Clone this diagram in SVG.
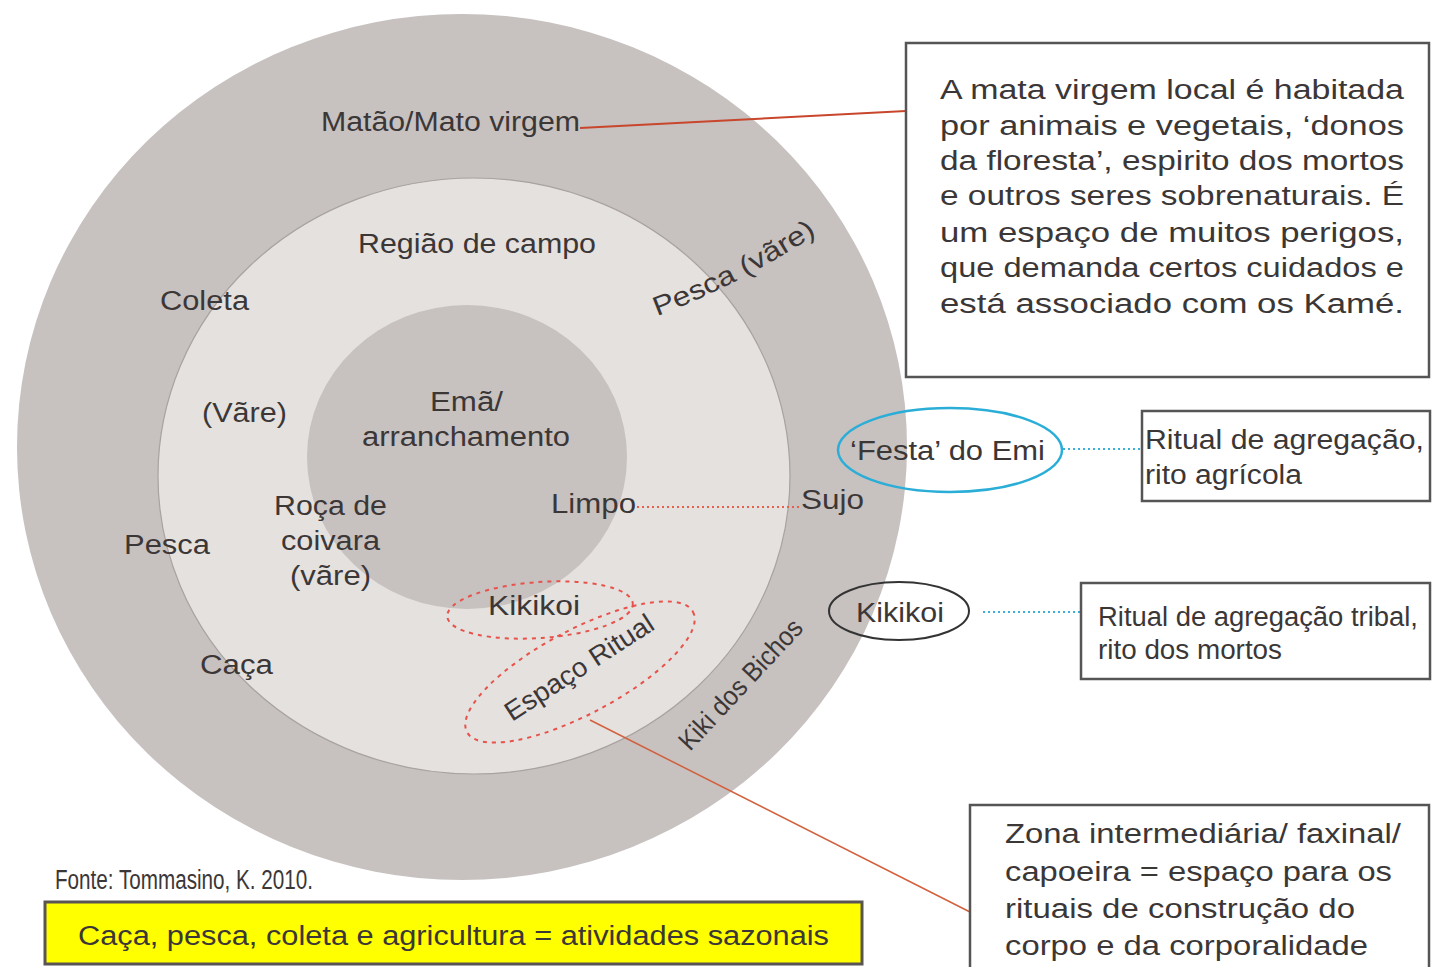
<svg xmlns="http://www.w3.org/2000/svg" width="1432" height="967" viewBox="0 0 1432 967">
<style>
.t{font-family:"Liberation Sans",Arial,sans-serif;font-size:27px;fill:#3c3737}
.box{fill:#fff;stroke:#555;stroke-width:2.5}
.red-dash{fill:none;stroke:#e8524a;stroke-width:2;stroke-dasharray:4 5}
</style>
<rect width="1432" height="967" fill="#fff"/>
<g id="zones">
<ellipse id="outer" cx="462" cy="447" rx="445" ry="433" fill="#c7c1c0"/>
<ellipse id="middle" cx="474" cy="476" rx="316" ry="298" fill="#e4e1df" stroke="#a8a2a1" stroke-width="1.2"/>
<ellipse id="inner" cx="467" cy="457" rx="160" ry="152" fill="#c7c1c0"/>
</g>
<g id="connectors">
<line x1="580" y1="128" x2="906" y2="111" stroke="#c8462c" stroke-width="2"/>
<line x1="637" y1="507" x2="800" y2="507" stroke="#e8604a" stroke-width="2" stroke-dasharray="2 3"/>
<line x1="1063" y1="449" x2="1143" y2="449" stroke="#3ab0d8" stroke-width="2" stroke-dasharray="2 3"/>
<line x1="983" y1="612" x2="1080" y2="612" stroke="#3ab0d8" stroke-width="2" stroke-dasharray="2 3"/>
<line x1="590" y1="720" x2="970" y2="912" stroke="#d2603c" stroke-width="1.5"/>
</g>
<g id="zone-labels">
<text class="t" x="321" y="131" textLength="259" lengthAdjust="spacingAndGlyphs">Matão/Mato virgem</text>
<text class="t" x="358" y="253" textLength="238" lengthAdjust="spacingAndGlyphs">Região de campo</text>
<text class="t" x="160" y="310" textLength="89" lengthAdjust="spacingAndGlyphs">Coleta</text>
<text class="t" x="202" y="422" textLength="85" lengthAdjust="spacingAndGlyphs">(Vãre)</text>
<text class="t" x="430" y="411" textLength="73" lengthAdjust="spacingAndGlyphs">Emã/</text>
<text class="t" x="362" y="446" textLength="208" lengthAdjust="spacingAndGlyphs">arranchamento</text>
<text class="t" x="274" y="515" textLength="113" lengthAdjust="spacingAndGlyphs">Roça de</text>
<text class="t" x="281" y="550" textLength="99" lengthAdjust="spacingAndGlyphs">coivara</text>
<text class="t" x="290" y="585" textLength="81" lengthAdjust="spacingAndGlyphs">(vãre)</text>
<text class="t" x="124" y="554" textLength="86" lengthAdjust="spacingAndGlyphs">Pesca</text>
<text class="t" x="551" y="513" textLength="85" lengthAdjust="spacingAndGlyphs">Limpo</text>
<text class="t" x="801" y="509" textLength="63" lengthAdjust="spacingAndGlyphs">Sujo</text>
<text class="t" x="200" y="674" textLength="73" lengthAdjust="spacingAndGlyphs">Caça</text>
<path id="arcPesca" d="M 657 316 Q 740 285 826 228" fill="none"/>
<text class="t" font-size="26"><textPath href="#arcPesca" textLength="180" lengthAdjust="spacingAndGlyphs">Pesca (vãre)</textPath></text>
<text class="t" font-size="21" transform="translate(690 752) rotate(-47)" textLength="168" lengthAdjust="spacingAndGlyphs">Kiki dos Bichos</text>
</g>
<g id="kikikoi-inner">
<ellipse class="red-dash" cx="540" cy="610" rx="93" ry="28" transform="rotate(-4 540 610)"/>
<text class="t" x="488" y="615" textLength="92" lengthAdjust="spacingAndGlyphs">Kikikoi</text>
</g>
<g id="espaco-ritual">
<ellipse class="red-dash" cx="580" cy="672" rx="128" ry="42" transform="rotate(-28 580 672)"/>
<text class="t" font-size="24" transform="translate(512 722) rotate(-33)" textLength="172" lengthAdjust="spacingAndGlyphs">Espaço Ritual</text>
</g>
<g id="festa-emi">
<ellipse cx="950" cy="450" rx="112" ry="42" fill="none" stroke="#2aaed8" stroke-width="2.5"/>
<text class="t" x="850" y="460" textLength="195" lengthAdjust="spacingAndGlyphs">‘Festa’ do Emi</text>
</g>
<g id="kikikoi-outer">
<ellipse cx="899" cy="611" rx="70" ry="29" fill="none" stroke="#333" stroke-width="2"/>
<text class="t" x="856" y="622" textLength="88" lengthAdjust="spacingAndGlyphs">Kikikoi</text>
</g>
<g id="box-mata">
<rect class="box" x="906" y="43" width="523" height="334"/>
<g font-size="28">
<text class="t" font-size="28" x="940" y="99" textLength="464" lengthAdjust="spacingAndGlyphs">A mata virgem local é habitada</text>
<text class="t" font-size="28" x="940" y="135" textLength="464" lengthAdjust="spacingAndGlyphs">por animais e vegetais, ‘donos</text>
<text class="t" font-size="28" x="940" y="170" textLength="464" lengthAdjust="spacingAndGlyphs">da floresta’, espirito dos mortos</text>
<text class="t" font-size="28" x="940" y="205" textLength="464" lengthAdjust="spacingAndGlyphs">e outros seres sobrenaturais. É</text>
<text class="t" font-size="28" x="940" y="242" textLength="464" lengthAdjust="spacingAndGlyphs">um espaço de muitos perigos,</text>
<text class="t" font-size="28" x="940" y="277" textLength="464" lengthAdjust="spacingAndGlyphs">que  demanda certos cuidados e</text>
<text class="t" font-size="28" x="940" y="313" textLength="464" lengthAdjust="spacingAndGlyphs">está associado com os Kamé.</text>
</g>
</g>
<g id="box-festa">
<rect class="box" x="1142" y="411" width="288" height="90"/>
<text class="t" x="1145" y="449" textLength="279" lengthAdjust="spacingAndGlyphs">Ritual de agregação,</text>
<text class="t" x="1145" y="484" textLength="157" lengthAdjust="spacingAndGlyphs">rito agrícola</text>
</g>
<g id="box-kikikoi">
<rect class="box" x="1081" y="583" width="349" height="96"/>
<text class="t" font-size="24" x="1098" y="626" textLength="320" lengthAdjust="spacingAndGlyphs">Ritual de agregação  tribal,</text>
<text class="t" font-size="24" x="1098" y="659" textLength="184" lengthAdjust="spacingAndGlyphs">rito  dos mortos</text>
</g>
<g id="box-zona">
<rect class="box" x="970" y="805" width="459" height="175"/>
<text class="t" x="1005" y="843" textLength="396" lengthAdjust="spacingAndGlyphs">Zona intermediária/ faxinal/</text>
<text class="t" x="1005" y="881" textLength="387" lengthAdjust="spacingAndGlyphs">capoeira = espaço para os</text>
<text class="t" x="1005" y="918" textLength="350" lengthAdjust="spacingAndGlyphs">rituais de construção do</text>
<text class="t" x="1005" y="955" textLength="363" lengthAdjust="spacingAndGlyphs">corpo e da corporalidade</text>
</g>
<g id="legend">
<text class="t" font-size="20" x="55" y="889" textLength="258" lengthAdjust="spacingAndGlyphs">Fonte: Tommasino, K. 2010.</text>
<rect x="45" y="902" width="817" height="62" fill="#ffff00" stroke="#5a5555" stroke-width="3"/>
<text class="t" x="78" y="945" textLength="751" lengthAdjust="spacingAndGlyphs">Caça, pesca, coleta e agricultura =  atividades sazonais</text>
</g>
</svg>
